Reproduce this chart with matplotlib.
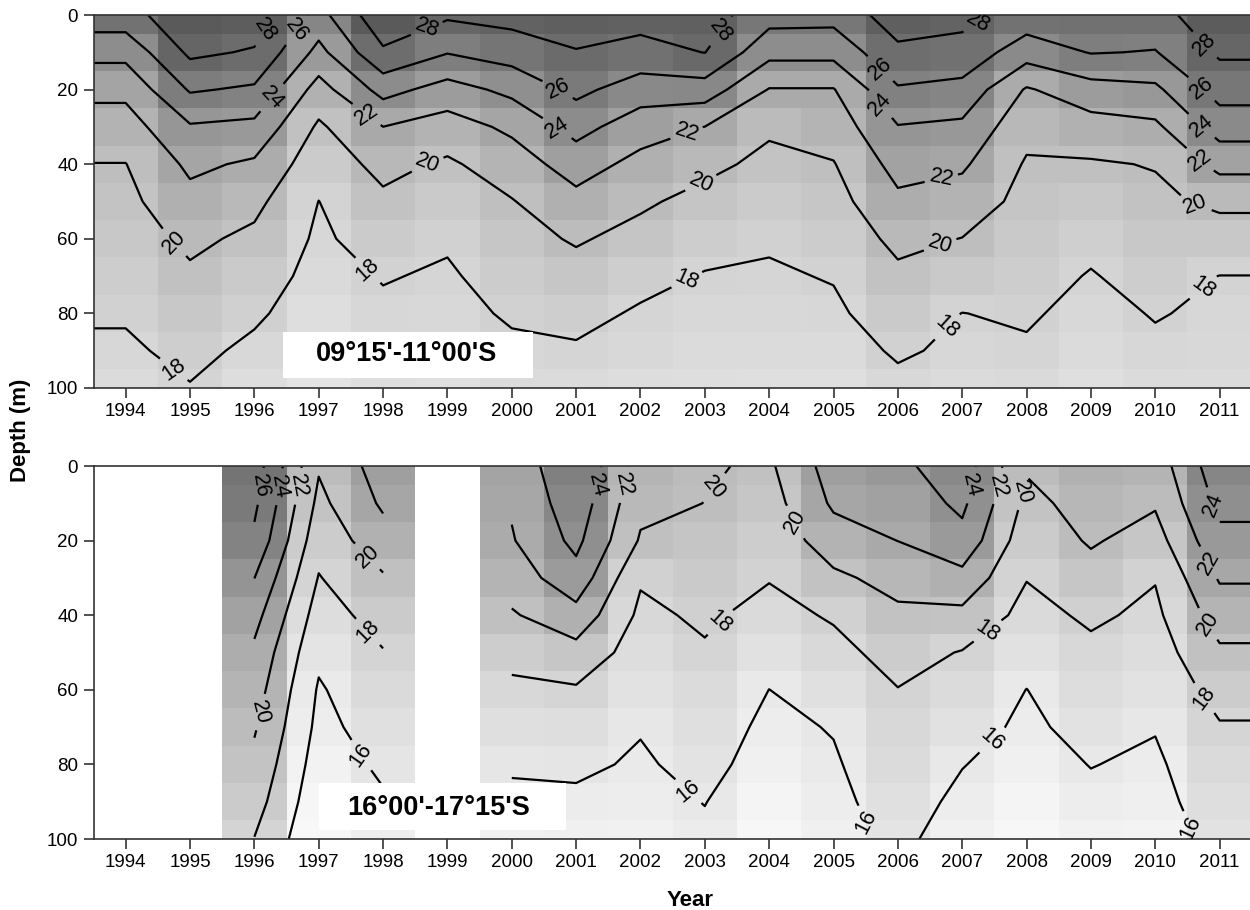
import numpy as np
import matplotlib
matplotlib.use("Agg")
import matplotlib.pyplot as plt
from matplotlib.colors import LinearSegmentedColormap
from matplotlib.patches import Rectangle

plt.rcParams["font.family"] = ["Liberation Sans", "DejaVu Sans"]

years = list(range(1994, 2012))
depths = [0, 10, 20, 30, 40, 50, 60, 70, 80, 90, 100]

# temperature (deg C) at the depths above, one profile per year
north_profiles = [
    [27.2, 24.6, 22.5, 21.1, 19.96, 19.5, 19.1, 18.6, 18.2, 17.7, 17.3],  # 1994
    [29.5, 28.4, 26.2, 23.8, 22.4, 21.4, 20.4, 19.7, 19.1, 18.5, 17.9],   # 1995
    [29.2, 27.8, 25.7, 23.5, 21.7, 20.5, 19.6, 18.9, 18.3, 17.6, 17.1],   # 1996
    [25.3, 23.4, 21.2, 19.7, 18.8, 17.98, 17.7, 17.4, 17.0, 16.7, 16.4],  # 1997
    [29.5, 27.7, 24.7, 21.99, 20.6, 19.6, 18.8, 18.1, 17.7, 17.3, 17.0],  # 1998
    [28.3, 26.1, 23.2, 21.1, 19.7, 18.9, 18.2, 17.8, 17.5, 17.2, 16.9],   # 1999
    [28.7, 26.9, 24.5, 22.4, 21.0, 19.9, 19.3, 18.7, 18.2, 17.7, 17.3],   # 2000
    [29.0, 27.9, 26.5, 24.7, 22.9, 21.4, 20.2, 19.3, 18.5, 17.8, 17.2],   # 2001
    [28.8, 27.3, 25.0, 22.9, 21.4, 20.3, 19.4, 18.5, 17.8, 17.5, 17.1],   # 2002
    [28.9, 28.04, 25.1, 21.98, 20.5, 19.4, 18.6, 17.9, 17.6, 17.3, 17.0], # 2003
    [26.8, 24.6, 21.9, 20.3, 19.5, 18.8, 18.2, 17.8, 17.5, 17.2, 16.9],   # 2004
    [26.7, 24.6, 21.9, 20.9, 19.9, 19.3, 18.7, 18.1, 17.7, 17.3, 16.9],   # 2005
    [29.0, 27.6, 25.8, 23.9, 22.7, 21.6, 20.5, 19.6, 18.9, 18.2, 17.6],   # 2006
    [28.6, 27.3, 25.4, 23.6, 22.3, 21.1, 19.96, 19.0, 17.98, 17.7, 17.3], # 2007
    [27.2, 24.9, 21.8, 20.6, 19.8, 19.4, 19.0, 18.6, 18.2, 17.8, 17.4],   # 2008
    [27.3, 26.1, 23.2, 21.2, 19.8, 19.1, 18.4, 17.9, 17.5, 17.2, 16.9],   # 2009
    [27.3, 25.9, 23.6, 21.6, 20.1, 19.6, 19.1, 18.6, 18.1, 17.7, 17.3],   # 2010
    [29.3, 28.3, 26.8, 24.9, 22.6, 20.4, 19.1, 17.98, 17.7, 17.5, 17.2],  # 2011
]

south_profiles = [
    None,                                                                  # 1994
    None,                                                                  # 1995
    [27.0, 26.4, 25.6, 24.02, 22.7, 21.6, 20.9, 20.2, 19.5, 18.8, 17.95],  # 1996
    [20.2, 19.5, 18.7, 17.9, 17.1, 16.4, 15.8, 15.5, 15.1, 14.7, 14.3],    # 1997
    [22.9, 22.3, 21.2, 19.8, 18.8, 17.9, 17.4, 16.8, 16.3, 15.8, 15.4],    # 1998
    None,                                                                  # 1999
    [22.5, 22.2, 21.85, 20.9, 19.8, 18.6, 17.6, 16.9, 16.2, 15.65, 15.2],  # 2000
    [25.9, 25.2, 24.5, 23.3, 21.3, 19.3, 17.8, 17.0, 16.3, 15.7, 15.3],    # 2001
    [21.0, 20.5, 19.8, 18.2, 17.6, 17.1, 16.6, 16.1, 15.8, 15.5, 15.2],    # 2002
    [20.2, 19.98, 19.4, 18.85, 18.3, 17.8, 17.3, 16.9, 16.5, 16.04, 15.7], # 2003
    [19.7, 19.2, 18.6, 18.1, 17.4, 16.7, 15.99, 15.6, 15.3, 14.95, 14.6],  # 2004
    [22.9, 22.3, 21.1, 19.6, 18.2, 17.45, 16.8, 16.1, 15.8, 15.55, 15.3],  # 2005
    [23.6, 22.8, 22.02, 20.7, 19.6, 18.7, 17.95, 17.6, 17.2, 16.8, 16.4],  # 2006
    [25.0, 24.4, 23.4, 21.4, 19.5, 17.9, 17.3, 16.7, 16.06, 15.6, 15.2],   # 2007
    [20.2, 19.5, 18.8, 18.07, 17.4, 16.7, 15.98, 15.65, 15.3, 14.95, 14.6],# 2008
    [21.2, 20.7, 20.2, 19.3, 18.3, 17.6, 17.1, 16.6, 16.05, 15.6, 15.1],   # 2009
    [20.9, 20.2, 19.2, 18.1, 17.6, 17.1, 16.6, 16.1, 15.7, 15.4, 15.0],    # 2010
    [25.3, 24.5, 23.5, 22.2, 20.9, 19.7, 18.7, 17.85, 17.4, 17.0, 16.6],   # 2011
]

north_levels = [18, 20, 22, 24, 26, 28]
south_levels = [16, 18, 20, 22, 24, 26]

north_title = "09°15'-11°00'S"
south_title = "16°00'-17°15'S"

# where the isotherm labels sit (year, depth)
north_label_pos = [
    (1996.16, 4.0), (1996.68, 4.5), (1996.26, 21.9), (1997.74, 26.8),
    (1994.79, 60.3), (1997.79, 67.9), (1994.71, 96.0),
    (1998.67, 3.1), (1998.67, 38.9),
    (2000.69, 21.0), (2000.69, 30.8), (2003.26, 4.5), (2002.71, 31.3),
    (2002.87, 42.0), (2002.69, 69.7),
    (2007.27, 2.7), (2005.69, 15.2), (2005.74, 23.7), (2006.67, 43.3),
    (2006.65, 61.2), (2006.70, 82.2),
    (2010.72, 8.9), (2010.69, 20.6), (2010.69, 30.4), (2010.69, 38.9),
    (2010.66, 48.7), (2010.72, 72.4),
]
south_label_pos = [
    (1996.11, 5.5), (1996.37, 5.5), (1996.70, 5.5), (1997.71, 25.2),
    (1997.77, 44.4), (1996.08, 65.9), (1997.77, 76.1),
    (2001.39, 5.5), (2001.86, 5.5), (2003.10, 5.1), (2004.29, 16.3),
    (2003.23, 41.7), (2002.74, 87.3),
    (2007.22, 5.5), (2007.58, 5.5), (2007.89, 6.7), (2007.35, 43.0),
    (2007.40, 72.1), (2005.48, 95.8),
    (2010.84, 10.9), (2010.77, 26.6), (2010.79, 42.7), (2010.79, 61.8),
    (2010.69, 95.8),
]

grey = LinearSegmentedColormap.from_list("sst_grey", ["#f8f8f8", "#5a5a5a"])


def section(ax, profiles, levels, label_pos, title, box, text_xy):
    rows = [p if p is not None else [np.nan] * len(depths) for p in profiles]
    z = np.ma.masked_invalid(np.array(rows, dtype=float).T)
    ax.pcolormesh(years, depths, z, shading="nearest", cmap=grey,
                  vmin=14.5, vmax=29.5)

    # contour grid padded half a year on each side so the lines reach the frame
    xs = [years[0] - 0.5] + years + [years[-1] + 0.5]
    zc = np.ma.concatenate([z[:, :1], z, z[:, -1:]], axis=1)
    cs = ax.contour(xs, depths, zc, levels=levels, colors="black",
                    linewidths=1.6)
    ax.clabel(cs, fmt="%d", fontsize=15.5, inline=True, inline_spacing=5,
              manual=label_pos)

    x0, x1, y0, y1 = box
    ax.add_patch(Rectangle((x0, y0), x1 - x0, y1 - y0, facecolor="white",
                           edgecolor="none", zorder=3))
    ax.text(text_xy[0], text_xy[1], title, fontsize=19.5, fontweight="bold",
            ha="center", va="center", zorder=4)

    ax.set_xlim(1993.5, 2011.5)
    ax.set_ylim(100, 0)
    ax.set_xticks(years)
    ax.set_yticks(range(0, 101, 20))
    ax.tick_params(direction="out", length=7, width=1.2, labelsize=13.5,
                   color="#333333", pad=4)
    for s in ax.spines.values():
        s.set_color("#333333")
        s.set_linewidth(1.2)


fig = plt.figure(figsize=(12.5, 9.1), dpi=100)
left = 93.5 / 1250
width = 18 * 64.35 / 1250
ax_top = fig.add_axes([left, 1 - 388 / 910, width, 373 / 910])
ax_bot = fig.add_axes([left, 1 - 839 / 910, width, 373 / 910])

section(ax_top, north_profiles, north_levels, north_label_pos, north_title,
        (1996.44, 2000.33, 85.0, 97.4), (1998.37, 90.8))
section(ax_bot, south_profiles, south_levels, south_label_pos, south_title,
        (1997.01, 2000.85, 85.1, 97.6), (1998.87, 91.6))

fig.text(21 / 1250, 1 - 430 / 910, "Depth (m)", rotation=90, fontsize=16,
         fontweight="bold", ha="center", va="center")
fig.text(690 / 1250, 0.004, "Year", fontsize=16, fontweight="bold",
         ha="center", va="baseline")

fig.savefig("out.png", dpi=100)
plt.close()
